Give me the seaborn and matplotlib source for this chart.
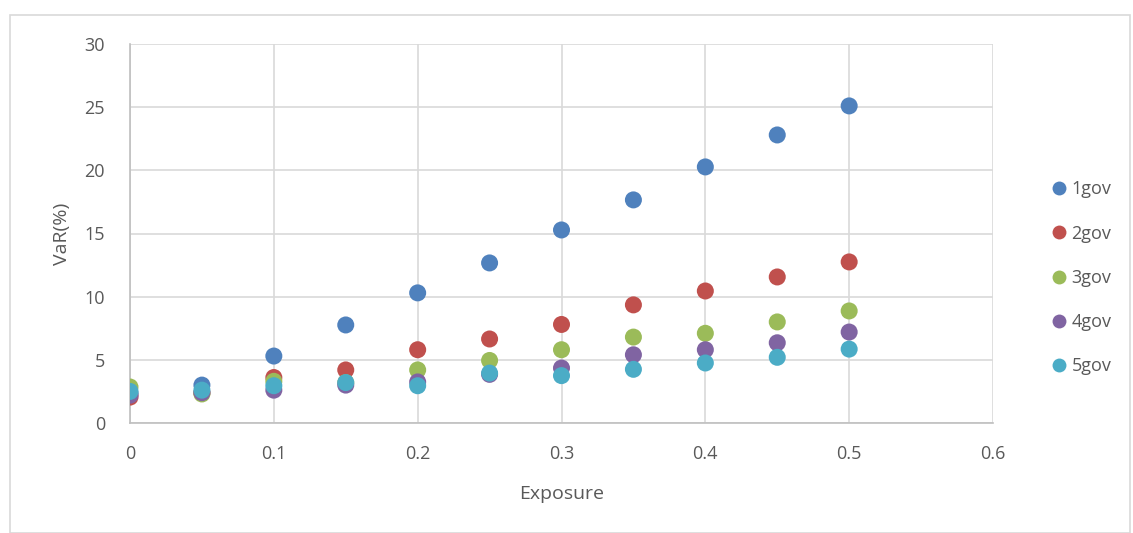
import matplotlib
matplotlib.use("Agg")
import matplotlib.pyplot as plt
import seaborn as sns
import pandas as pd
from matplotlib.patches import Rectangle
from matplotlib.lines import Line2D

exposure = [0, 0.05, 0.1, 0.15, 0.2, 0.25, 0.3, 0.35, 0.4, 0.45, 0.5]
gov1 = [2.35, 3.0, 5.3, 7.76, 10.3, 12.67, 15.28, 17.66, 20.27, 22.8, 25.1]
gov2 = [2.05, 2.4, 3.6, 4.2, 5.8, 6.65, 7.8, 9.35, 10.45, 11.56, 12.75]
gov3 = [2.85, 2.3, 3.3, 3.2, 4.2, 4.95, 5.8, 6.8, 7.1, 8.0, 8.87]
gov4 = [2.2, 2.4, 2.6, 3.0, 3.25, 3.85, 4.35, 5.4, 5.8, 6.35, 7.2]
gov5 = [2.5, 2.6, 2.95, 3.2, 2.95, 3.95, 3.75, 4.25, 4.75, 5.2, 5.85]
series_names = ["1gov", "2gov", "3gov", "4gov", "5gov"]
colors = ["#4F81BD", "#C0504D", "#9BBB59", "#8064A2", "#4BACC6"]
x_ticks = [0, 0.1, 0.2, 0.3, 0.4, 0.5, 0.6]
x_tick_labels = ["0", "0.1", "0.2", "0.3", "0.4", "0.5", "0.6"]
y_ticks = [0, 5, 10, 15, 20, 25, 30]

rows = []
for name, vals in zip(series_names, [gov1, gov2, gov3, gov4, gov5]):
    for x, v in zip(exposure, vals):
        rows.append({"Exposure": x, "VaR": v, "series": name})
df = pd.DataFrame(rows)

sns.set_theme(style="white")
plt.rcParams["font.family"] = ["Open Sans", "DejaVu Sans"]
txt = "#595959"
grid = "#d9d9d9"

fig = plt.figure(figsize=(11.33, 5.33), dpi=100)
ax = fig.add_axes([130/1133, 110/533, 863/1133, 379/533])

sns.scatterplot(data=df, x="Exposure", y="VaR", hue="series", palette=colors,
                hue_order=series_names, s=150, edgecolor="none", linewidth=0,
                legend=False, ax=ax, zorder=3)

ax.set_xlim(0, 0.6)
ax.set_ylim(0, 30)
ax.set_xticks(x_ticks)
ax.set_xticklabels(x_tick_labels)
ax.set_yticks(y_ticks)
ax.grid(True, color=grid, linewidth=1.2)
ax.set_axisbelow(True)
for side in ["top", "right"]:
    ax.spines[side].set_visible(False)
for side in ["left", "bottom"]:
    ax.spines[side].set_color("#bfbfbf")
    ax.spines[side].set_linewidth(1.2)
ax.tick_params(axis="both", colors=txt, labelsize=13, length=0)
ax.tick_params(axis="x", pad=16)
ax.tick_params(axis="y", pad=18)
ax.set_xlabel("Exposure", color=txt, fontsize=14, labelpad=16)
ax.set_ylabel("VaR(%)", color=txt, fontsize=14, labelpad=10)

handles = [Line2D([], [], marker="o", linestyle="none", markersize=10,
                  markerfacecolor=c, markeredgecolor="none") for c in colors]
leg = ax.legend(handles, series_names, loc="center left", bbox_to_anchor=(1.045, 0.383),
                frameon=False, fontsize=13, labelspacing=1.45, handletextpad=0.1,
                handlelength=1.2)
for t in leg.get_texts():
    t.set_color(txt)

fig.patches.append(Rectangle((10/1133, 0), 1120/1133, 518/533, transform=fig.transFigure,
                             fill=False, edgecolor=grid, linewidth=1.2))

fig.savefig("out.png", dpi=100)
